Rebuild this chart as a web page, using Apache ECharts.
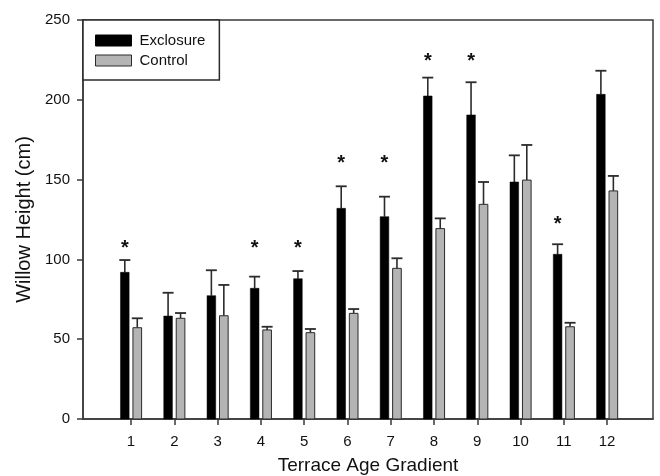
<!DOCTYPE html>
<html>
<head>
<meta charset="utf-8">
<script src="https://cdn.jsdelivr.net/npm/echarts@6/dist/echarts.min.js"></script>
<style>
  html, body { margin: 0; padding: 0; background: #fff; }
  #chart { width: 660px; height: 476px; }
</style>
</head>
<body>
<div id="chart"></div>
<script>
// Terrace age classes along the gradient
const terraces = [1, 2, 3, 4, 5, 6, 7, 8, 9, 10, 11, 12];
// Mean willow height (cm) and standard error, fenced plots
const exclosureMean = [91.9, 64.5, 77.3, 81.9, 87.9, 132.0, 126.8, 202.4, 190.5, 148.5, 103.2, 203.4];
const exclosureSE   = [7.7, 14.6, 15.9, 7.3, 4.8, 13.8, 12.5, 11.5, 20.5, 16.7, 6.3, 14.8];
// Mean willow height (cm) and standard error, browsed plots
const controlMean = [57.2, 63.1, 64.7, 55.8, 54.1, 66.2, 94.4, 119.3, 134.5, 149.7, 57.8, 142.9];
const controlSE   = [5.9, 3.3, 19.3, 2.0, 2.3, 2.7, 6.3, 6.4, 14.0, 22.0, 2.5, 9.4];
// Terraces with a significant difference, and the height where the marker sits
const sigTerraces = [1, 4, 5, 6, 7, 8, 9, 11];
const sigMarkY    = [110, 110, 110, 163, 163, 227, 227, 125];
// Value axis ticks
const yTicks = [0, 50, 100, 150, 200, 250];

const BAR_OFFSET = 0.144;   // bar centre distance from the tick, in axis units
const BAR_HALF = 0.1;       // half bar width, in axis units
const CAP_HALF = 0.127;     // half error-cap width, in axis units

function barRenderer(offset, fill, stroke, strokeW) {
  return function (params, api) {
    const x = api.value(0) + offset;
    const v = api.value(1);
    const e = api.value(2);
    const base = api.coord([x, 0]);
    const top = api.coord([x, v]);
    const cap = api.coord([x, v + e]);
    const hw = api.size([BAR_HALF, 0])[0];
    const cw = api.size([CAP_HALF, 0])[0];
    return {
      type: 'group',
      children: [
        {
          type: 'line',
          shape: { x1: top[0], y1: top[1], x2: cap[0], y2: cap[1] },
          style: { stroke: '#2b2b2b', lineWidth: 1.6 }
        },
        {
          type: 'line',
          shape: { x1: cap[0] - cw, y1: cap[1], x2: cap[0] + cw, y2: cap[1] },
          style: { stroke: '#2b2b2b', lineWidth: 1.8 }
        },
        {
          type: 'rect',
          shape: { x: top[0] - hw, y: top[1], width: hw * 2, height: base[1] - top[1] },
          style: { fill: fill, stroke: stroke, lineWidth: strokeW }
        }
      ]
    };
  };
}

const chart = echarts.init(document.getElementById('chart'), null, { renderer: 'canvas' });
const FONT = '"Liberation Sans", Arial, sans-serif';

chart.setOption({
  animation: false,
  backgroundColor: '#fff',
  textStyle: { fontFamily: FONT, color: '#111' },
  grid: {
    left: 83, right: 7, top: 20, bottom: 57,
    outerBoundsMode: 'none',
    containLabel: false,
    show: true, borderColor: '#3a3a3a', borderWidth: 1.5, backgroundColor: 'transparent'
  },
  legend: {
    orient: 'vertical',
    left: 83, top: 20,
    padding: [13, 14, 12, 12],
    itemGap: 5,
    itemWidth: 36, itemHeight: 11,
    borderColor: '#2b2b2b', borderWidth: 1.5,
    backgroundColor: '#fff',
    icon: 'rect',
    textStyle: { fontFamily: FONT, fontSize: 15, color: '#111', padding: [0, 0, 0, 3] },
    data: [
      { name: 'Exclosure', itemStyle: { color: '#000', borderColor: '#000', borderWidth: 1 } },
      { name: 'Control', itemStyle: { color: '#b4b4b4', borderColor: '#2b2b2b', borderWidth: 1 } }
    ]
  },
  xAxis: {
    type: 'value',
    min: -0.11, max: 13.06,
    name: 'Terrace Age Gradient',
    nameLocation: 'middle',
    nameGap: 37,
    nameTextStyle: { fontFamily: FONT, fontSize: 19, color: '#111' },
    splitLine: { show: false },
    axisLine: { show: true, onZero: false, lineStyle: { color: '#3a3a3a', width: 1.5 } },
    axisTick: { show: true, inside: false, length: 6, customValues: terraces, lineStyle: { color: '#3a3a3a', width: 1.5 } },
    axisLabel: { customValues: terraces, margin: 15, fontFamily: FONT, fontSize: 15, color: '#111' }
  },
  yAxis: {
    type: 'value',
    min: 0, max: 250, interval: 50,
    name: 'Willow Height (cm)',
    nameLocation: 'middle',
    nameGap: 48,
    nameTextStyle: { fontFamily: FONT, fontSize: 20, color: '#111' },
    splitLine: { show: false },
    axisLine: { show: true, onZero: false, lineStyle: { color: '#3a3a3a', width: 1.5 } },
    axisTick: { show: true, inside: false, length: 6, customValues: yTicks, lineStyle: { color: '#3a3a3a', width: 1.5 } },
    axisLabel: { customValues: yTicks, margin: 13, fontFamily: FONT, fontSize: 15, color: '#111' }
  },
  series: [
    {
      name: 'Exclosure',
      type: 'custom',
      itemStyle: { color: '#000' },
      encode: { x: 0, y: 1 },
      data: terraces.map((t, i) => [t, exclosureMean[i], exclosureSE[i]]),
      renderItem: barRenderer(-BAR_OFFSET, '#000', '#000', 0.5)
    },
    {
      name: 'Control',
      type: 'custom',
      itemStyle: { color: '#b4b4b4' },
      encode: { x: 0, y: 1 },
      data: terraces.map((t, i) => [t, controlMean[i], controlSE[i]]),
      renderItem: barRenderer(BAR_OFFSET, '#b4b4b4', '#2b2b2b', 1)
    },
    {
      name: 'significance',
      type: 'custom',
      encode: { x: 0, y: 1 },
      data: sigTerraces.map((t, i) => [t, sigMarkY[i]]),
      renderItem: function (params, api) {
        const p = api.coord([api.value(0) - BAR_OFFSET, api.value(1)]);
        return {
          type: 'text',
          x: p[0], y: p[1] + 5,
          style: {
            text: '*', fill: '#111', font: 'bold 20px ' + FONT,
            align: 'center', verticalAlign: 'middle'
          }
        };
      }
    }
  ]
});
</script>
</body>
</html>
